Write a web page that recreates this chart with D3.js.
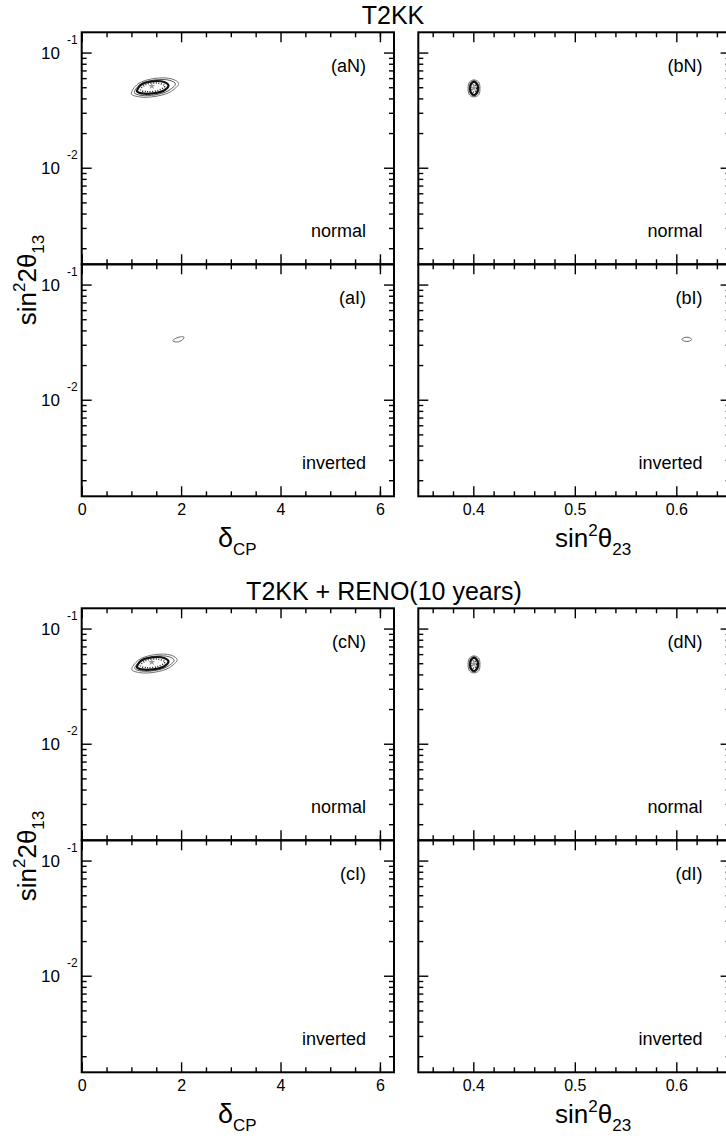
<!DOCTYPE html>
<html>
<head>
<meta charset="utf-8">
<script src="https://cdn.jsdelivr.net/npm/d3@7"></script>
<style>
  body { margin: 0; background: #fff; }
  svg { display: block; font-family: "Liberation Sans", Arial, Helvetica, sans-serif; }
</style>
</head>
<body>
<svg id="chart"></svg>
<script>
// ---- data ----
const blockTitles = ["T2KK", "T2KK + RENO(10 years)"];
const panelTags = [["aN", "bN", "aI", "bI"], ["cN", "dN", "cI", "dI"]];
const hierarchyLabels = ["normal", "inverted"];

const deltaTicks = [0, 2, 4, 6];
const deltaMinorTicks = [0.5, 1, 1.5, 2.5, 3, 3.5, 4.5, 5, 5.5, 6];
const s23Ticks = [0.4, 0.5, 0.6];
const s23MinorTicks = [0.36, 0.38, 0.42, 0.44, 0.46, 0.48, 0.52, 0.54, 0.56, 0.58, 0.62, 0.64];
const s13Ticks = [0.01, 0.1];
const s13TickExp = ["-2", "-1"];
const s13MinorTicks = [0.002, 0.003, 0.004, 0.005, 0.006, 0.007, 0.008, 0.009,
                       0.02, 0.03, 0.04, 0.05, 0.06, 0.07, 0.08, 0.09];

// contours [delta_CP, sin^2 2theta13]
const aN_outer  = [[1.00, 0.0438], [1.17, 0.0412], [1.475, 0.0416], [1.78, 0.0455], [1.95, 0.0539], [1.815, 0.0590], [1.475, 0.0597], [1.13, 0.0534]];
const aN_mid    = [[1.062, 0.0447], [1.193, 0.0425], [1.475, 0.0429], [1.736, 0.0465], [1.887, 0.0534], [1.777, 0.0573], [1.475, 0.0579], [1.173, 0.0528]];
const aN_thick  = [[1.113, 0.0460], [1.213, 0.0442], [1.435, 0.0442], [1.656, 0.0469], [1.746, 0.0519], [1.656, 0.0556], [1.414, 0.0562], [1.193, 0.0524]];
const aN_dotted = [[1.183, 0.0474], [1.314, 0.0458], [1.535, 0.0469], [1.676, 0.0513], [1.535, 0.0542], [1.294, 0.0528]];
const aN_best   = [1.41, 0.0512];

const cN_outer  = [[1.01, 0.0440], [1.17, 0.0414], [1.47, 0.0418], [1.76, 0.0457], [1.92, 0.0537], [1.80, 0.0587], [1.47, 0.0594], [1.14, 0.0532]];
const cN_mid    = [[1.07, 0.0449], [1.20, 0.0428], [1.47, 0.0432], [1.72, 0.0466], [1.86, 0.0531], [1.76, 0.0569], [1.47, 0.0575], [1.18, 0.0526]];
const cN_thick  = [[1.113, 0.0460], [1.213, 0.0442], [1.435, 0.0442], [1.656, 0.0469], [1.746, 0.0519], [1.656, 0.0556], [1.414, 0.0562], [1.193, 0.0524]];
const cN_dotted = [[1.183, 0.0474], [1.314, 0.0458], [1.535, 0.0469], [1.676, 0.0513], [1.535, 0.0542], [1.294, 0.0528]];
const cN_best   = [1.41, 0.0512];

const aI_outer  = [[1.83, 0.0325], [1.90, 0.0317], [2.00, 0.0325], [2.06, 0.0349], [1.99, 0.0352], [1.89, 0.0341]];

// contours [sin^2 theta23, sin^2 2theta13]
const bN_outer  = [[0.4007, 0.0579], [0.4052, 0.0556], [0.4066, 0.0489], [0.4052, 0.0428], [0.4007, 0.0412], [0.3963, 0.0428], [0.3948, 0.0489], [0.3963, 0.0556]];
const bN_mid    = [[0.4007, 0.0571], [0.4041, 0.0545], [0.4056, 0.0489], [0.4041, 0.0438], [0.4007, 0.0418], [0.3972, 0.0438], [0.3958, 0.0489], [0.3972, 0.0545]];
const bN_thick  = [[0.4007, 0.0556], [0.4034, 0.0535], [0.4047, 0.0489], [0.4034, 0.0446], [0.4007, 0.0428], [0.3979, 0.0446], [0.3968, 0.0489], [0.3979, 0.0535]];
const bN_dotted = [[0.4007, 0.0529], [0.4032, 0.0489], [0.4007, 0.0451], [0.3983, 0.0489]];
const bN_best   = [0.4005, 0.0493];

const dN_outer  = bN_outer, dN_mid = bN_mid, dN_thick = bN_thick, dN_dotted = bN_dotted, dN_best = bN_best;

const bI_outer  = [[0.6053, 0.0334], [0.6085, 0.0322], [0.6125, 0.0322], [0.6152, 0.0334], [0.6125, 0.0347], [0.6085, 0.0348]];

const contours = {
  aN: { outer: aN_outer, mid: aN_mid, thick: aN_thick, dotted: aN_dotted, best: aN_best },
  bN: { outer: bN_outer, mid: bN_mid, thick: bN_thick, dotted: bN_dotted, best: bN_best },
  aI: { outer: aI_outer },
  bI: { outer: bI_outer },
  cN: { outer: cN_outer, mid: cN_mid, thick: cN_thick, dotted: cN_dotted, best: cN_best },
  dN: { outer: dN_outer, mid: dN_mid, thick: dN_thick, dotted: dN_dotted, best: dN_best },
  cI: {},
  dI: {}
};

// ---- layout ----
const W = 726, H = 1141;
const top0 = 32.3, panelH = 232, blockShift = 576;
const colX = [81.7, 418.3], panelW = 312.3;

const svg = d3.select("#chart").attr("width", W).attr("height", H);

const xDelta = d3.scaleLinear().domain([0, 2 * Math.PI]).range([0, panelW]);
const xS23 = d3.scaleLinear().domain([0.3458, 0.3458 + panelW / 1015]).range([0, panelW]);
const y = d3.scaleLog().domain([0.00145, 0.15]).range([panelH, 0]);

const styles = {
  outer:  { stroke: "#6f6f6f", width: 1, dash: null },
  mid:    { stroke: "#5a5a5a", width: 1, dash: null },
  thick:  { stroke: "#111", width: 2.2, dash: null },
  dotted: { stroke: "#222", width: 1.5, dash: "1,1.6" }
};

function ticks(g, axis, vals, size, tr) {
  g.append("g")
    .attr("transform", tr)
    .call(axis.tickValues(vals).tickSize(-size).tickFormat(""))
    .call(a => a.select(".domain").remove())
    .call(a => a.selectAll("line").attr("stroke", "#000").attr("stroke-width", 1.4));
}

blockTitles.forEach((title, b) => {
  const by = top0 + b * blockShift;

  svg.append("text")
    .attr("x", b === 0 ? 393 : 384)
    .attr("y", 23.5 + b * blockShift)
    .attr("text-anchor", "middle")
    .attr("font-size", 25)
    .text(title);

  for (let r = 0; r < 2; r++) {
    for (let c = 0; c < 2; c++) {
      const tag = panelTags[b][r * 2 + c];
      const x = c === 0 ? xDelta : xS23;
      const major = c === 0 ? deltaTicks : s23Ticks;
      const minor = c === 0 ? deltaMinorTicks : s23MinorTicks;
      const px = colX[c], py = by + r * panelH;
      const g = svg.append("g").attr("transform", `translate(${px},${py})`);

      // inward ticks on all four sides
      ticks(g, d3.axisBottom(x), major, 10, `translate(0,${panelH})`);
      ticks(g, d3.axisBottom(x), minor, 5, `translate(0,${panelH})`);
      ticks(g, d3.axisTop(x), major, 10, "translate(0,0)");
      ticks(g, d3.axisTop(x), minor, 5, "translate(0,0)");
      ticks(g, d3.axisLeft(y), s13Ticks, 10, "translate(0,0)");
      ticks(g, d3.axisLeft(y), s13MinorTicks, 5, "translate(0,0)");
      ticks(g, d3.axisRight(y), s13Ticks, 10, `translate(${panelW},0)`);
      ticks(g, d3.axisRight(y), s13MinorTicks, 5, `translate(${panelW},0)`);

      g.append("rect")
        .attr("width", panelW).attr("height", panelH)
        .attr("fill", "none").attr("stroke", "#000").attr("stroke-width", 2);

      // contours
      const line = d3.line()
        .x(d => x(d[0]))
        .y(d => y(d[1]))
        .curve(d3.curveCatmullRomClosed);
      const set = contours[tag];
      ["outer", "mid", "thick", "dotted"].forEach(k => {
        if (!set[k]) return;
        g.append("path")
          .attr("d", line(set[k]))
          .attr("fill", "none")
          .attr("stroke", styles[k].stroke)
          .attr("stroke-width", styles[k].width)
          .attr("stroke-dasharray", styles[k].dash);
      });
      if (set.best) {
        g.append("path")
          .attr("d", d3.symbol(d3.symbolStar, 16)())
          .attr("transform", `translate(${x(set.best[0])},${y(set.best[1])})`)
          .attr("fill", "#999");
      }

      g.append("text")
        .attr("x", panelW - 28).attr("y", 40)
        .attr("text-anchor", "end").attr("font-size", 18)
        .text(`(${tag})`);
      g.append("text")
        .attr("x", panelW - 28).attr("y", panelH - 27)
        .attr("text-anchor", "end").attr("font-size", 18)
        .text(hierarchyLabels[r]);

      // y tick labels on left column
      if (c === 0) {
        s13Ticks.forEach((v, i) => {
          g.append("text")
            .attr("x", 60 - px).attr("y", y(v) + 6)
            .attr("text-anchor", "end").attr("font-size", 17)
            .text("10");
          g.append("text")
            .attr("x", 67 - px).attr("y", y(v) - 9)
            .attr("font-size", 12)
            .text(s13TickExp[i]);
        });
      }

      // x tick labels under the inverted row
      if (r === 1) {
        g.append("g")
          .attr("transform", `translate(0,${panelH})`)
          .call(d3.axisBottom(x).tickValues(major).tickSize(0).tickPadding(7)
            .tickFormat(c === 0 ? d3.format("d") : d3.format(".1f")))
          .call(a => a.select(".domain").remove())
          .call(a => a.selectAll("text")
            .attr("font-size", 16)
            .attr("font-family", "'Liberation Sans', Arial, sans-serif")
            .attr("fill", "#000"));
      }
    }
  }

  // axis titles
  const xl = svg.append("text").attr("x", 218).attr("y", 547 + b * blockShift).attr("font-size", 27);
  xl.append("tspan").text("δ");
  xl.append("tspan").attr("font-size", 17).attr("dy", 8).text("CP");

  const xr = svg.append("text").attr("x", 555).attr("y", 547 + b * blockShift).attr("font-size", 26);
  xr.append("tspan").text("sin");
  xr.append("tspan").attr("font-size", 17).attr("dy", -11).text("2");
  xr.append("tspan").attr("dy", 11).text("θ");
  xr.append("tspan").attr("font-size", 17).attr("dy", 8).text("23");

  const yl = svg.append("text")
    .attr("transform", `translate(36,${280 + b * blockShift}) rotate(-90)`)
    .attr("text-anchor", "middle")
    .attr("font-size", 26);
  yl.append("tspan").text("sin");
  yl.append("tspan").attr("font-size", 17).attr("dy", -11).text("2");
  yl.append("tspan").attr("dy", 11).text("2θ");
  yl.append("tspan").attr("font-size", 17).attr("dy", 8).text("13");
});
</script>
</body>
</html>
